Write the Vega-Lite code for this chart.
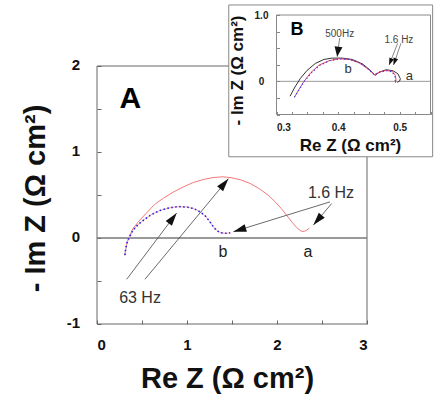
{
  "$schema": "https://vega.github.io/schema/vega-lite/v6.json",
  "width": 270,
  "height": 258,
  "autosize": {"type": "none"},
  "padding": {"left": 97, "top": 66, "right": 68, "bottom": 71},
  "background": "white",
  "config": {"view": {"stroke": null}, "font": "Liberation Sans", "axis": {"grid": false}},
  "datasets": {
    "mainA": [
      {"re": 0.31, "im": -0.2}, {"re": 0.32, "im": -0.12}, {"re": 0.335, "im": -0.05}, {"re": 0.36, "im": 0.02},
      {"re": 0.4, "im": 0.11}, {"re": 0.46, "im": 0.19}, {"re": 0.54, "im": 0.28}, {"re": 0.64, "im": 0.39},
      {"re": 0.74, "im": 0.465}, {"re": 0.85, "im": 0.535}, {"re": 0.96, "im": 0.595}, {"re": 1.07, "im": 0.645},
      {"re": 1.18, "im": 0.68}, {"re": 1.29, "im": 0.703}, {"re": 1.4, "im": 0.712}, {"re": 1.5, "im": 0.7},
      {"re": 1.6, "im": 0.675}, {"re": 1.7, "im": 0.635}, {"re": 1.8, "im": 0.575}, {"re": 1.9, "im": 0.5},
      {"re": 1.98, "im": 0.42}, {"re": 2.05, "im": 0.34}, {"re": 2.11, "im": 0.26}, {"re": 2.17, "im": 0.18},
      {"re": 2.22, "im": 0.12}, {"re": 2.26, "im": 0.085}, {"re": 2.29, "im": 0.075}, {"re": 2.32, "im": 0.085},
      {"re": 2.36, "im": 0.115}
    ],
    "mainB": [
      {"re": 0.31, "im": -0.2}, {"re": 0.32, "im": -0.12}, {"re": 0.335, "im": -0.05}, {"re": 0.36, "im": 0.01},
      {"re": 0.4, "im": 0.09}, {"re": 0.45, "im": 0.15}, {"re": 0.52, "im": 0.21}, {"re": 0.6, "im": 0.27},
      {"re": 0.7, "im": 0.32}, {"re": 0.8, "im": 0.35}, {"re": 0.9, "im": 0.365}, {"re": 1.0, "im": 0.36},
      {"re": 1.08, "im": 0.34}, {"re": 1.15, "im": 0.3}, {"re": 1.21, "im": 0.25}, {"re": 1.26, "im": 0.18},
      {"re": 1.3, "im": 0.12}, {"re": 1.34, "im": 0.08}, {"re": 1.38, "im": 0.06}, {"re": 1.43, "im": 0.055},
      {"re": 1.48, "im": 0.06}
    ],
    "mainArrows": [
      {"id": "m1", "x1": 0.33, "y1": -0.48, "x2": 0.885, "y2": 0.29},
      {"id": "m2", "x1": 0.533, "y1": -0.48, "x2": 1.46, "y2": 0.69},
      {"id": "m3", "x1": 2.589, "y1": 0.42, "x2": 1.515, "y2": 0.073},
      {"id": "m4", "x1": 2.607, "y1": 0.4, "x2": 2.404, "y2": 0.15}
    ],
    "insA": [
      {"re": 0.322, "im": -0.224}, {"re": 0.33, "im": -0.085}, {"re": 0.3385, "im": 0.04}, {"re": 0.3495, "im": 0.164},
      {"re": 0.363, "im": 0.27}, {"re": 0.377, "im": 0.33}, {"re": 0.39, "im": 0.35}, {"re": 0.407, "im": 0.35},
      {"re": 0.423, "im": 0.33}, {"re": 0.44, "im": 0.26}, {"re": 0.453, "im": 0.16}, {"re": 0.46, "im": 0.09},
      {"re": 0.467, "im": 0.14}, {"re": 0.478, "im": 0.175}, {"re": 0.489, "im": 0.16}, {"re": 0.497, "im": 0.115},
      {"re": 0.501, "im": 0.04}, {"re": 0.5, "im": 0.005}, {"re": 0.496, "im": -0.015}
    ],
    "insR": [
      {"re": 0.329, "im": -0.24}, {"re": 0.336, "im": -0.13}, {"re": 0.344, "im": -0.01}, {"re": 0.355, "im": 0.125},
      {"re": 0.3685, "im": 0.24}, {"re": 0.385, "im": 0.31}, {"re": 0.401, "im": 0.34}, {"re": 0.418, "im": 0.33},
      {"re": 0.434, "im": 0.28}, {"re": 0.448, "im": 0.19}, {"re": 0.459, "im": 0.1}, {"re": 0.467, "im": 0.14},
      {"re": 0.478, "im": 0.165}, {"re": 0.488, "im": 0.15}, {"re": 0.493, "im": 0.09}, {"re": 0.494, "im": 0.025},
      {"re": 0.493, "im": -0.025}
    ],
    "insB": [
      {"re": 0.329, "im": -0.24}, {"re": 0.337, "im": -0.12}, {"re": 0.345, "im": 0.0}, {"re": 0.357, "im": 0.13},
      {"re": 0.37, "im": 0.24}, {"re": 0.386, "im": 0.31}, {"re": 0.402, "im": 0.34}, {"re": 0.419, "im": 0.33},
      {"re": 0.435, "im": 0.28}, {"re": 0.449, "im": 0.185}, {"re": 0.459, "im": 0.095}, {"re": 0.467, "im": 0.135},
      {"re": 0.478, "im": 0.16}, {"re": 0.487, "im": 0.145}, {"re": 0.492, "im": 0.085}, {"re": 0.493, "im": 0.02},
      {"re": 0.492, "im": -0.03}
    ],
    "insArrows": [
      {"id": "i1", "x1": 0.4026, "y1": 0.653, "x2": 0.3985, "y2": 0.371},
      {"id": "i2", "x1": 0.4966, "y1": 0.573, "x2": 0.4828, "y2": 0.246},
      {"id": "i3", "x1": 0.502, "y1": 0.573, "x2": 0.49, "y2": 0.246}
    ]
  },
  "layer": [
    {
      "data": {"values": [{"x0": 0, "x1": 3, "y0": -1, "y1": 2}]},
      "mark": {"type": "rect", "fill": "white", "fillOpacity": 0, "stroke": "#666", "strokeWidth": 1},
      "encoding": {
        "x": {
          "field": "x0", "type": "quantitative",
          "scale": {"domain": [0, 3], "nice": false, "zero": false},
          "axis": {
            "orient": "bottom", "values": [0, 0.5, 1, 1.5, 2, 2.5, 3],
            "labelExpr": "datum.value % 1 === 0 ? '' + datum.value : ''",
            "domain": false, "tickSize": -4, "tickColor": "#666", "tickWidth": 1,
            "labelFont": "Liberation Sans", "labelFontWeight": "bold", "labelFontSize": 15, "labelColor": "#111",
            "labelPadding": 17, "labelFlush": true,
            "title": "Re Z (Ω cm²)", "titleFont": "Liberation Sans", "titleFontSize": 29, "titleFontWeight": "bold",
            "titleColor": "#111", "titleX": 130, "titleY": 63, "titleBaseline": "alphabetic", "titleAlign": "center"
          }
        },
        "x2": {"field": "x1"},
        "y": {
          "field": "y0", "type": "quantitative",
          "scale": {"domain": [-1, 2], "nice": false, "zero": false},
          "axis": {
            "orient": "left", "values": [-1, -0.5, 0, 0.5, 1, 1.5, 2],
            "labelExpr": "datum.value % 1 === 0 ? '' + datum.value : ''",
            "domain": false, "tickSize": -4, "tickColor": "#666", "tickWidth": 1,
            "labelFont": "Liberation Sans", "labelFontWeight": "bold", "labelFontSize": 15, "labelColor": "#111",
            "labelPadding": 21.5, "labelOffset": -2,
            "title": "- Im Z (Ω cm²)", "titleFont": "Liberation Sans", "titleFontSize": 29, "titleFontWeight": "bold",
            "titleColor": "#111", "titleAngle": -90, "titleX": -53, "titleY": 132, "titleBaseline": "alphabetic", "titleAlign": "center"
          }
        },
        "y2": {"field": "y1"}
      }
    },
    {
      "data": {"values": [{"x0": 0, "x1": 3, "y0": 0}]},
      "mark": {"type": "rule", "color": "#777", "strokeWidth": 1.5},
      "encoding": {
        "x": {"field": "x0", "type": "quantitative", "scale": {"domain": [0, 3], "nice": false, "zero": false}, "axis": null},
        "x2": {"field": "x1"},
        "y": {"field": "y0", "type": "quantitative", "scale": {"domain": [-1, 2], "nice": false, "zero": false}, "axis": null}
      }
    },
    {
      "data": {"name": "mainA"},
      "mark": {"type": "line", "color": "#f27a7a", "strokeWidth": 1},
      "encoding": {
        "x": {"field": "re", "type": "quantitative", "scale": {"domain": [0, 3], "nice": false, "zero": false}, "axis": null},
        "y": {"field": "im", "type": "quantitative", "scale": {"domain": [-1, 2], "nice": false, "zero": false}, "axis": null},
        "order": {"value": null}
      }
    },
    {
      "data": {"name": "mainB"},
      "mark": {"type": "line", "color": "#f5a0a0", "strokeWidth": 0.9},
      "encoding": {
        "x": {"field": "re", "type": "quantitative", "scale": {"domain": [0, 3], "nice": false, "zero": false}, "axis": null},
        "y": {"field": "im", "type": "quantitative", "scale": {"domain": [-1, 2], "nice": false, "zero": false}, "axis": null},
        "order": {"value": null}
      }
    },
    {
      "data": {"name": "mainB"},
      "mark": {"type": "line", "color": "#2424f0", "strokeWidth": 1.6, "strokeDash": [1.5, 2.5]},
      "encoding": {
        "x": {"field": "re", "type": "quantitative", "scale": {"domain": [0, 3], "nice": false, "zero": false}, "axis": null},
        "y": {"field": "im", "type": "quantitative", "scale": {"domain": [-1, 2], "nice": false, "zero": false}, "axis": null},
        "order": {"value": null}
      }
    },
    {
      "data": {"name": "mainArrows"},
      "mark": {"type": "rule", "color": "#444", "strokeWidth": 0.8},
      "encoding": {
        "x": {"field": "x1", "type": "quantitative", "scale": {"domain": [0, 3], "nice": false, "zero": false}, "axis": null},
        "y": {"field": "y1", "type": "quantitative", "scale": {"domain": [-1, 2], "nice": false, "zero": false}, "axis": null},
        "x2": {"field": "x2"},
        "y2": {"field": "y2"}
      }
    },
    {
      "data": {"name": "mainArrows"},
      "transform": [{"filter": "datum.id === 'm1'"}],
      "mark": {"type": "point", "shape": "M0,0L-0.3,1L0.3,1Z", "filled": true, "color": "#111", "opacity": 1, "size": 676, "angle": 37},
      "encoding": {
        "x": {"field": "x2", "type": "quantitative", "scale": {"domain": [0, 3], "nice": false, "zero": false}, "axis": null},
        "y": {"field": "y2", "type": "quantitative", "scale": {"domain": [-1, 2], "nice": false, "zero": false}, "axis": null}
      }
    },
    {
      "data": {"name": "mainArrows"},
      "transform": [{"filter": "datum.id === 'm2'"}],
      "mark": {"type": "point", "shape": "M0,0L-0.3,1L0.3,1Z", "filled": true, "color": "#111", "opacity": 1, "size": 676, "angle": 39.7},
      "encoding": {
        "x": {"field": "x2", "type": "quantitative", "scale": {"domain": [0, 3], "nice": false, "zero": false}, "axis": null},
        "y": {"field": "y2", "type": "quantitative", "scale": {"domain": [-1, 2], "nice": false, "zero": false}, "axis": null}
      }
    },
    {
      "data": {"name": "mainArrows"},
      "transform": [{"filter": "datum.id === 'm3'"}],
      "mark": {"type": "point", "shape": "M0,0L-0.3,1L0.3,1Z", "filled": true, "color": "#111", "opacity": 1, "size": 676, "angle": 252.9},
      "encoding": {
        "x": {"field": "x2", "type": "quantitative", "scale": {"domain": [0, 3], "nice": false, "zero": false}, "axis": null},
        "y": {"field": "y2", "type": "quantitative", "scale": {"domain": [-1, 2], "nice": false, "zero": false}, "axis": null}
      }
    },
    {
      "data": {"name": "mainArrows"},
      "transform": [{"filter": "datum.id === 'm4'"}],
      "mark": {"type": "point", "shape": "M0,0L-0.3,1L0.3,1Z", "filled": true, "color": "#111", "opacity": 1, "size": 676, "angle": 220.4},
      "encoding": {
        "x": {"field": "x2", "type": "quantitative", "scale": {"domain": [0, 3], "nice": false, "zero": false}, "axis": null},
        "y": {"field": "y2", "type": "quantitative", "scale": {"domain": [-1, 2], "nice": false, "zero": false}, "axis": null}
      }
    },
    {
      "data": {"values": [{"t": "A", "re": 0.37, "im": 1.508}]},
      "mark": {"type": "text", "font": "Liberation Sans", "fontSize": 30, "fontWeight": "bold", "color": "#000", "align": "center", "baseline": "alphabetic"},
      "encoding": {
        "x": {"field": "re", "type": "quantitative", "scale": {"domain": [0, 3], "nice": false, "zero": false}, "axis": null},
        "y": {"field": "im", "type": "quantitative", "scale": {"domain": [-1, 2], "nice": false, "zero": false}, "axis": null},
        "text": {"field": "t"}
      }
    },
    {
      "data": {"values": [{"t": "b", "re": 1.4, "im": -0.221}, {"t": "a", "re": 2.344, "im": -0.221}]},
      "mark": {"type": "text", "font": "Liberation Sans", "fontSize": 16, "color": "#222", "align": "center", "baseline": "alphabetic"},
      "encoding": {
        "x": {"field": "re", "type": "quantitative", "scale": {"domain": [0, 3], "nice": false, "zero": false}, "axis": null},
        "y": {"field": "im", "type": "quantitative", "scale": {"domain": [-1, 2], "nice": false, "zero": false}, "axis": null},
        "text": {"field": "t"}
      }
    },
    {
      "data": {"values": [{"t": "1.6 Hz", "re": 2.6, "im": 0.47}, {"t": "63 Hz", "re": 0.478, "im": -0.76}]},
      "mark": {"type": "text", "font": "Liberation Sans", "fontSize": 16, "color": "#333", "align": "center", "baseline": "alphabetic"},
      "encoding": {
        "x": {"field": "re", "type": "quantitative", "scale": {"domain": [0, 3], "nice": false, "zero": false}, "axis": null},
        "y": {"field": "im", "type": "quantitative", "scale": {"domain": [-1, 2], "nice": false, "zero": false}, "axis": null},
        "text": {"field": "t"}
      }
    },
    {
      "data": {"values": [{"x0": 0.2225, "x1": 0.5535, "y0": -1.137, "y1": 1.151}]},
      "mark": {"type": "rect", "fill": "white", "stroke": "#888", "strokeWidth": 1},
      "encoding": {
        "x": {"field": "x0", "type": "quantitative", "scale": {"domain": [0.3, 0.55], "range": [179.5, 333.5], "nice": false, "zero": false}, "axis": null},
        "x2": {"field": "x1"},
        "y": {"field": "y0", "type": "quantitative", "scale": {"domain": [-0.5, 1.0], "range": [48.5, -51], "nice": false, "zero": false}, "axis": null},
        "y2": {"field": "y1"}
      }
    },
    {
      "data": {"values": [{"x0": 0.3, "x1": 0.55, "y0": -0.5, "y1": 1.0}]},
      "mark": {"type": "rect", "fill": "white", "fillOpacity": 0, "stroke": "#888", "strokeWidth": 1},
      "encoding": {
        "x": {
          "field": "x0", "type": "quantitative",
          "scale": {"domain": [0.3, 0.55], "range": [179.5, 333.5], "nice": false, "zero": false},
          "axis": {
            "orient": "bottom", "offset": -209.5, "zindex": 1,
            "values": [0.3, 0.325, 0.35, 0.375, 0.4, 0.425, 0.45, 0.475, 0.5, 0.525, 0.55],
            "labelExpr": "abs(datum.value * 10 - round(datum.value * 10)) < 0.001 ? format(datum.value, '.1f') : ''",
            "domain": false, "tickSize": -3, "tickColor": "#888", "tickWidth": 1,
            "labelFont": "Liberation Sans", "labelFontWeight": "bold", "labelFontSize": 10, "labelColor": "#222",
            "labelPadding": 11,
            "title": "Re Z (Ω cm²)", "titleFont": "Liberation Sans", "titleFontSize": 17, "titleFontWeight": "bold",
            "titleColor": "#111", "titleX": 253, "titleY": 35.5, "titleBaseline": "alphabetic", "titleAlign": "center"
          }
        },
        "x2": {"field": "x1"},
        "y": {
          "field": "y0", "type": "quantitative",
          "scale": {"domain": [-0.5, 1.0], "range": [48.5, -51], "nice": false, "zero": false},
          "axis": {
            "orient": "left", "offset": -179.5, "zindex": 1,
            "values": [-0.5, -0.25, 0, 0.25, 0.5, 0.75, 1.0],
            "labelExpr": "datum.value === 1 ? '1.0' : (datum.value === 0 ? '0' : '')",
            "domain": false, "tickSize": -3, "tickColor": "#888", "tickWidth": 1,
            "labelFont": "Liberation Sans", "labelFontWeight": "bold", "labelFontSize": 10, "labelColor": "#222",
            "labelPadding": 18.5, "labelAlign": "center",
            "title": "- Im Z (Ω cm²)", "titleFont": "Liberation Sans", "titleFontSize": 17, "titleFontWeight": "bold",
            "titleColor": "#111", "titleAngle": -90, "titleX": -34.5, "titleY": 4, "titleBaseline": "alphabetic", "titleAlign": "center"
          }
        },
        "y2": {"field": "y1"}
      }
    },
    {
      "data": {"values": [{"x0": 0.3, "x1": 0.55, "y0": 0}]},
      "mark": {"type": "rule", "color": "#999", "strokeWidth": 1},
      "encoding": {
        "x": {"field": "x0", "type": "quantitative", "scale": {"domain": [0.3, 0.55], "range": [179.5, 333.5], "nice": false, "zero": false}, "axis": null},
        "x2": {"field": "x1"},
        "y": {"field": "y0", "type": "quantitative", "scale": {"domain": [-0.5, 1.0], "range": [48.5, -51], "nice": false, "zero": false}, "axis": null}
      }
    },
    {
      "data": {"name": "insA"},
      "mark": {"type": "line", "color": "#333", "strokeWidth": 1},
      "encoding": {
        "x": {"field": "re", "type": "quantitative", "scale": {"domain": [0.3, 0.55], "range": [179.5, 333.5], "nice": false, "zero": false}, "axis": null},
        "y": {"field": "im", "type": "quantitative", "scale": {"domain": [-0.5, 1.0], "range": [48.5, -51], "nice": false, "zero": false}, "axis": null},
        "order": {"value": null}
      }
    },
    {
      "data": {"name": "insR"},
      "mark": {"type": "line", "color": "#f0405a", "strokeWidth": 1},
      "encoding": {
        "x": {"field": "re", "type": "quantitative", "scale": {"domain": [0.3, 0.55], "range": [179.5, 333.5], "nice": false, "zero": false}, "axis": null},
        "y": {"field": "im", "type": "quantitative", "scale": {"domain": [-0.5, 1.0], "range": [48.5, -51], "nice": false, "zero": false}, "axis": null},
        "order": {"value": null}
      }
    },
    {
      "data": {"name": "insB"},
      "mark": {"type": "line", "color": "#3a3af5", "strokeWidth": 1.2, "strokeDash": [1.2, 2.5]},
      "encoding": {
        "x": {"field": "re", "type": "quantitative", "scale": {"domain": [0.3, 0.55], "range": [179.5, 333.5], "nice": false, "zero": false}, "axis": null},
        "y": {"field": "im", "type": "quantitative", "scale": {"domain": [-0.5, 1.0], "range": [48.5, -51], "nice": false, "zero": false}, "axis": null},
        "order": {"value": null}
      }
    },
    {
      "data": {"name": "insArrows"},
      "mark": {"type": "rule", "color": "#555", "strokeWidth": 0.7},
      "encoding": {
        "x": {"field": "x1", "type": "quantitative", "scale": {"domain": [0.3, 0.55], "range": [179.5, 333.5], "nice": false, "zero": false}, "axis": null},
        "y": {"field": "y1", "type": "quantitative", "scale": {"domain": [-0.5, 1.0], "range": [48.5, -51], "nice": false, "zero": false}, "axis": null},
        "x2": {"field": "x2"},
        "y2": {"field": "y2"}
      }
    },
    {
      "data": {"name": "insArrows"},
      "transform": [{"filter": "datum.id === 'i1'"}],
      "mark": {"type": "point", "shape": "M0,0L-0.4,1L0.4,1Z", "filled": true, "color": "#111", "opacity": 1, "size": 400, "angle": 187.6},
      "encoding": {
        "x": {"field": "x2", "type": "quantitative", "scale": {"domain": [0.3, 0.55], "range": [179.5, 333.5], "nice": false, "zero": false}, "axis": null},
        "y": {"field": "y2", "type": "quantitative", "scale": {"domain": [-0.5, 1.0], "range": [48.5, -51], "nice": false, "zero": false}, "axis": null}
      }
    },
    {
      "data": {"name": "insArrows"},
      "transform": [{"filter": "datum.id === 'i2'"}],
      "mark": {"type": "point", "shape": "M0,0L-0.35,1L0.35,1Z", "filled": true, "color": "#111", "opacity": 1, "size": 196, "angle": 201.3},
      "encoding": {
        "x": {"field": "x2", "type": "quantitative", "scale": {"domain": [0.3, 0.55], "range": [179.5, 333.5], "nice": false, "zero": false}, "axis": null},
        "y": {"field": "y2", "type": "quantitative", "scale": {"domain": [-0.5, 1.0], "range": [48.5, -51], "nice": false, "zero": false}, "axis": null}
      }
    },
    {
      "data": {"name": "insArrows"},
      "transform": [{"filter": "datum.id === 'i3'"}],
      "mark": {"type": "point", "shape": "M0,0L-0.35,1L0.35,1Z", "filled": true, "color": "#111", "opacity": 1, "size": 196, "angle": 198.7},
      "encoding": {
        "x": {"field": "x2", "type": "quantitative", "scale": {"domain": [0.3, 0.55], "range": [179.5, 333.5], "nice": false, "zero": false}, "axis": null},
        "y": {"field": "y2", "type": "quantitative", "scale": {"domain": [-0.5, 1.0], "range": [48.5, -51], "nice": false, "zero": false}, "axis": null}
      }
    },
    {
      "data": {"values": [{"t": "B", "re": 0.3332, "im": 0.698}]},
      "mark": {"type": "text", "font": "Liberation Sans", "fontSize": 18, "fontWeight": "bold", "color": "#000", "align": "center", "baseline": "alphabetic"},
      "encoding": {
        "x": {"field": "re", "type": "quantitative", "scale": {"domain": [0.3, 0.55], "range": [179.5, 333.5], "nice": false, "zero": false}, "axis": null},
        "y": {"field": "im", "type": "quantitative", "scale": {"domain": [-0.5, 1.0], "range": [48.5, -51], "nice": false, "zero": false}, "axis": null},
        "text": {"field": "t"}
      }
    },
    {
      "data": {"values": [{"t": "500Hz", "re": 0.4026, "im": 0.673}, {"t": "1.6 Hz", "re": 0.4987, "im": 0.573}]},
      "mark": {"type": "text", "font": "Liberation Sans", "fontSize": 10, "color": "#444", "align": "center", "baseline": "alphabetic"},
      "encoding": {
        "x": {"field": "re", "type": "quantitative", "scale": {"domain": [0.3, 0.55], "range": [179.5, 333.5], "nice": false, "zero": false}, "axis": null},
        "y": {"field": "im", "type": "quantitative", "scale": {"domain": [-0.5, 1.0], "range": [48.5, -51], "nice": false, "zero": false}, "axis": null},
        "text": {"field": "t"}
      }
    },
    {
      "data": {"values": [{"t": "b", "re": 0.4162, "im": 0.121}, {"t": "a", "re": 0.5155, "im": 0.02}]},
      "mark": {"type": "text", "font": "Liberation Sans", "fontSize": 13, "color": "#333", "align": "center", "baseline": "alphabetic"},
      "encoding": {
        "x": {"field": "re", "type": "quantitative", "scale": {"domain": [0.3, 0.55], "range": [179.5, 333.5], "nice": false, "zero": false}, "axis": null},
        "y": {"field": "im", "type": "quantitative", "scale": {"domain": [-0.5, 1.0], "range": [48.5, -51], "nice": false, "zero": false}, "axis": null},
        "text": {"field": "t"}
      }
    }
  ],
  "resolve": {"scale": {"x": "independent", "y": "independent"}}
}
